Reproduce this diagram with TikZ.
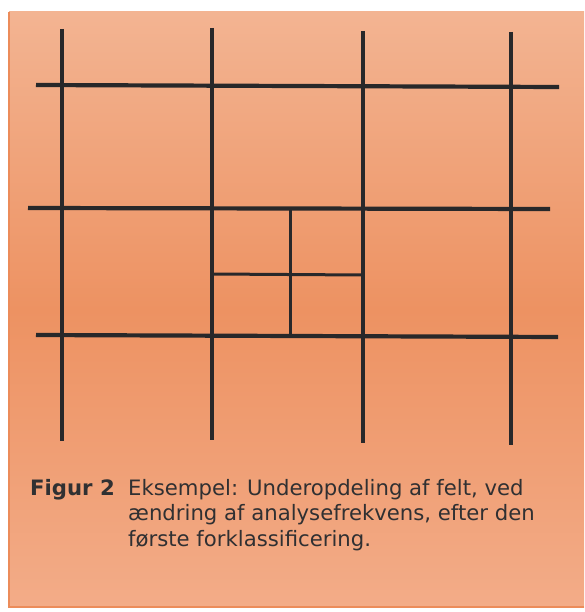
\documentclass[tikz,border=0pt]{standalone}
\usepackage{fontspec}
\setmainfont{DejaVu Sans}
\definecolor{bgtop}{RGB}{243,180,146}
\definecolor{bgmid}{RGB}{237,146,98}
\definecolor{bgbot}{RGB}{243,172,136}
\definecolor{bgedge}{RGB}{236,140,90}
\definecolor{ink}{RGB}{40,40,42}
\definecolor{txt}{RGB}{48,48,50}
\tikzset{
  gridline/.style={draw=ink, line width=4.2pt},
  subline/.style={draw=ink, line width=3pt},
  captxt/.style={text=txt, font=\fontsize{21.2}{25.5}\selectfont, inner sep=0pt},
}
\begin{document}
\begin{tikzpicture}[x=1pt,y=-1pt]
\useasboundingbox (0,0) rectangle (584,612);
\fill[white] (0,0) rectangle (584,612);
\shade[top color=bgtop, bottom color=bgbot, middle color=bgmid] (9,12) rectangle (584,607);
\draw[bgedge, line width=1.2pt] (9,12) -- (9,607) -- (584,607);
% main verticals
\coordinate (v1t) at (62,29);  \coordinate (v1b) at (62,441);
\coordinate (v2t) at (212,28); \coordinate (v2b) at (212,440);
\coordinate (v3t) at (363,31); \coordinate (v3b) at (363,443);
\coordinate (v4t) at (511,32); \coordinate (v4b) at (511,445);
% main horizontals
\coordinate (h1l) at (36,85);  \coordinate (h1r) at (559,87);
\coordinate (h2l) at (28,208); \coordinate (h2r) at (550,209);
\coordinate (h3l) at (36,335); \coordinate (h3r) at (558,337);
% subdivision
\coordinate (sv t) at (290,209); \coordinate (sv b) at (290,336);
\coordinate (sh l) at (212,274); \coordinate (sh r) at (363,275);
\draw[gridline] (v1t) -- (v1b);
\draw[gridline] (v2t) -- (v2b);
\draw[gridline] (v3t) -- (v3b);
\draw[gridline] (v4t) -- (v4b);
\draw[gridline] (h1l) -- (h1r);
\draw[gridline] (h2l) -- (h2r);
\draw[gridline] (h3l) -- (h3r);
\draw[subline] (sv t) -- (sv b);
\draw[subline] (sh l) -- (sh r);
% caption
\node[captxt, font=\fontsize{21.2}{25.5}\selectfont\bfseries, anchor=base east] (fig) at (115,495) {Figur 2};
\node[captxt, align=left, anchor=north west] (cap) at (128,478.9) {Eksempel: Underopdeling af felt, ved\\ændring af analysefrekvens, efter den\\første forklassificering.};
\end{tikzpicture}
\end{document}
